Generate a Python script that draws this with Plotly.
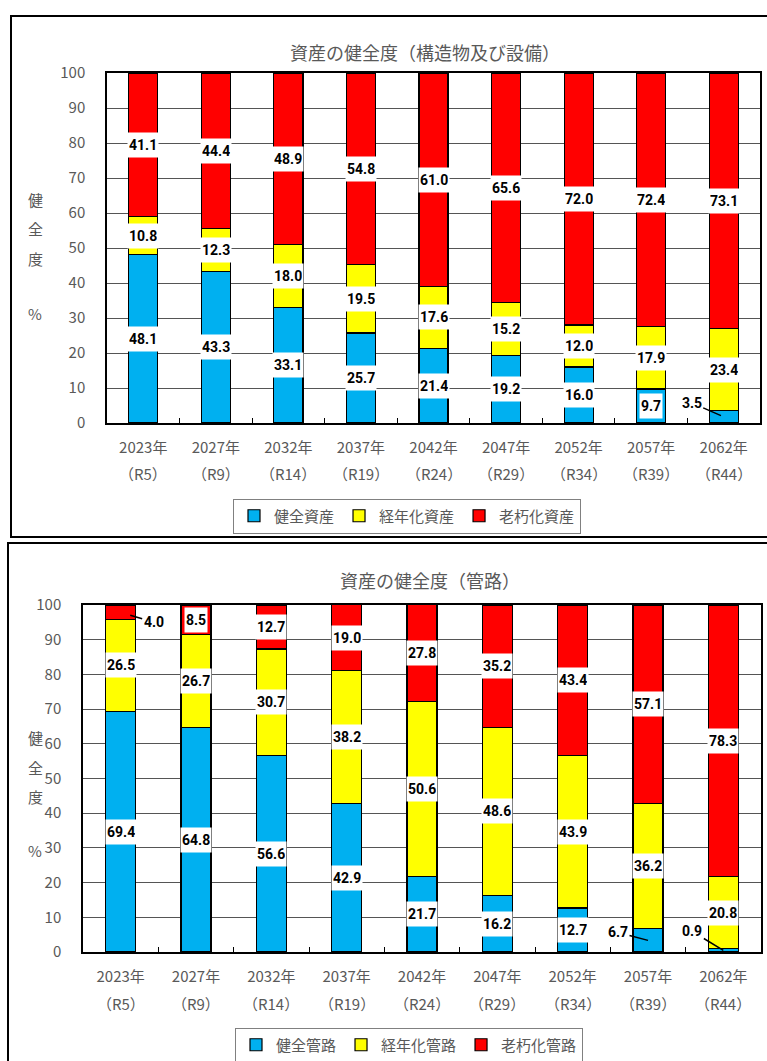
import plotly.graph_objects as go

# Categories
years = ["2023年", "2027年", "2032年", "2037年", "2042年", "2047年", "2052年", "2057年", "2062年"]
eras = ["（R5）", "（R9）", "（R14）", "（R19）", "（R24）", "（R29）", "（R34）", "（R39）", "（R44）"]
y_ticks = [0, 10, 20, 30, 40, 50, 60, 70, 80, 90, 100]

# Structures and equipment (%)
st_sound = [48.1, 43.3, 33.1, 25.7, 21.4, 19.2, 16.0, 9.7, 3.5]
st_aging = [10.8, 12.3, 18.0, 19.5, 17.6, 15.2, 12.0, 17.9, 23.4]
st_old = [41.1, 44.4, 48.9, 54.8, 61.0, 65.6, 72.0, 72.4, 73.1]

# Pipelines (%)
pp_sound = [69.4, 64.8, 56.6, 42.9, 21.7, 16.2, 12.7, 6.7, 0.9]
pp_aging = [26.5, 26.7, 30.7, 38.2, 50.6, 48.6, 43.9, 36.2, 20.8]
pp_old = [4.0, 8.5, 12.7, 19.0, 27.8, 35.2, 43.4, 57.1, 78.3]

W, H = 767, 1061
JP = "Noto Sans CJK JP"
GREY = "#595959"
C_SOUND, C_AGING, C_OLD = "#00B0F0", "#FFFF00", "#FF0000"


def px(x):
    return x / W


def py(y):
    return 1 - y / H


fig = go.Figure()

charts = [
    dict(xa="x", ya="y", leg="legend",
         series=[("健全資産", st_sound, C_SOUND), ("経年化資産", st_aging, C_AGING), ("老朽化資産", st_old, C_OLD)]),
    dict(xa="x2", ya="y2", leg="legend2",
         series=[("健全管路", pp_sound, C_SOUND), ("経年化管路", pp_aging, C_AGING), ("老朽化管路", pp_old, C_OLD)]),
]

for ch in charts:
    for name, vals, col in ch["series"]:
        fig.add_trace(go.Bar(
            x=years, y=vals, name=name, xaxis=ch["xa"], yaxis=ch["ya"], legend=ch["leg"],
            marker=dict(color=col, line=dict(color="black", width=1.2)),
            hoverinfo="skip",
        ))

annotations = []
label_font = dict(family="Roboto", size=14, color="black", weight="bold")

# Small segments labelled outside with a leader line: (chart, series, index) -> (ax, ay, standoff)
leaders = {
    (0, 0, 8): (-32, -14, 3),
    (1, 2, 0): (33, 10, 10),
    (1, 0, 7): (-30, -8, 0),
    (1, 0, 8): (-31, -19, 0),
}

for ci, ch in enumerate(charts):
    base = [0.0] * len(years)
    for si, (name, vals, col) in enumerate(ch["series"]):
        for i, v in enumerate(vals):
            mid = base[i] + v / 2
            txt = f"{v:.1f}"
            if (ci, si, i) in leaders:
                ax, ay, so = leaders[(ci, si, i)]
                annotations.append(dict(
                    x=years[i], y=mid, xref=ch["xa"], yref=ch["ya"], text=txt,
                    showarrow=True, arrowhead=0, arrowwidth=1.5, arrowcolor="black",
                    ax=ax, ay=ay, standoff=so, font=label_font,
                ))
            else:
                annotations.append(dict(
                    x=years[i], y=mid, xref=ch["xa"], yref=ch["ya"], text=txt,
                    showarrow=False, bgcolor="white", borderpad=1, height=22,
                    font=label_font,
                ))
            base[i] += v


def paper_text(x, y, text, size):
    annotations.append(dict(x=px(x), y=py(y), xref="paper", yref="paper", showarrow=False,
                            xanchor="center", yanchor="middle", text=text,
                            font=dict(family=JP, size=size, color=GREY)))


# Era labels under the year tick labels
for xa, yy in (("x", 474), ("x2", 1003)):
    for yr, era in zip(years, eras):
        annotations.append(dict(
            x=yr, y=py(yy), xref=xa, yref="paper", text=era, showarrow=False,
            font=dict(family=JP, size=15, color=GREY), xanchor="center", yanchor="middle",
        ))

# Titles
paper_text(425, 52, "資産の健全度（構造物及び設備）", 18)
paper_text(430, 580, "資産の健全度（管路）", 18)

# Vertical axis titles, one character per line
for chars_y in ((200, 229, 258, 313), (737, 767, 796, 850)):
    for ch_txt, yy in zip(["健", "全", "度", "%"], chars_y):
        paper_text(35, yy, ch_txt, 15)

# Outer frames around each chart
shapes = [
    dict(type="rect", xref="paper", yref="paper", x0=px(11), x1=1.02, y0=py(537), y1=py(16),
         line=dict(color="black", width=2)),
    dict(type="rect", xref="paper", yref="paper", x0=px(8), x1=1.02, y0=-0.02, y1=py(543),
         line=dict(color="black", width=2)),
]

xcommon = dict(type="category", showline=True, mirror=True, linecolor="black", linewidth=1.5,
               ticks="inside", tickson="boundaries", ticklen=5, tickcolor="black",
               tickfont=dict(family=JP, size=15, color=GREY), ticklabelstandoff=10,
               showgrid=False, fixedrange=True)
ycommon = dict(range=[0, 100], tickvals=y_ticks, showline=True, mirror=True, linecolor="black",
               linewidth=1.5, showgrid=True, gridcolor="#555555", gridwidth=1,
               tickfont=dict(family=JP, size=15, color=GREY), ticks="", ticklabelstandoff=17,
               zeroline=False, fixedrange=True)

legcommon = dict(orientation="h", xanchor="center", yanchor="middle", bgcolor="white",
                 bordercolor="#808080", borderwidth=1, traceorder="normal",
                 font=dict(family=JP, size=15, color=GREY), itemclick=False, itemdoubleclick=False)

fig.update_layout(
    width=W, height=H, autosize=False,
    margin=dict(l=0, r=0, t=0, b=0, pad=0, autoexpand=False),
    paper_bgcolor="white", plot_bgcolor="white",
    barmode="stack", bargap=0.6,
    xaxis=dict(domain=[px(107), px(760)], anchor="y", **xcommon),
    yaxis=dict(domain=[py(423), py(73)], anchor="x", **ycommon),
    xaxis2=dict(domain=[px(83), px(761)], anchor="y2", **xcommon),
    yaxis2=dict(domain=[py(952), py(605)], anchor="x2", **ycommon),
    legend=dict(x=px(407), y=py(516), **legcommon),
    legend2=dict(x=px(409), y=py(1045), **legcommon),
    annotations=annotations,
    shapes=shapes,
    showlegend=True,
)

fig.write_html("out.html")
